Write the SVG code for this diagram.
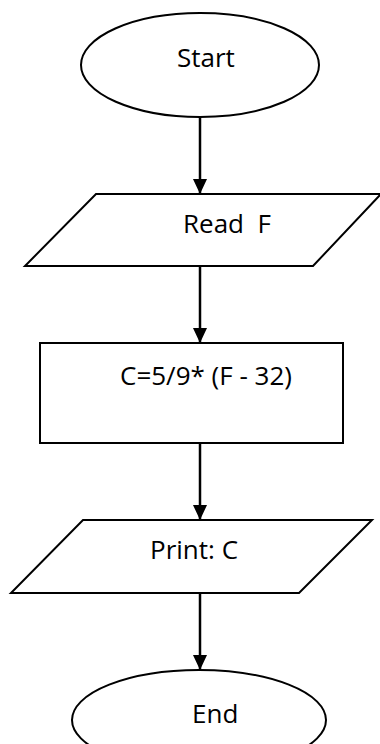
<svg xmlns="http://www.w3.org/2000/svg" width="380" height="744" viewBox="0 0 380 744">
<defs>
<marker id="ah" markerWidth="14" markerHeight="15" refX="14" refY="7" orient="auto" markerUnits="userSpaceOnUse">
<path d="M0,0 L15,7 L0,14 Z" fill="#000"/>
</marker>
</defs>
<style>
.shape{fill:#fff;stroke:#000;stroke-width:2}
.lbl{font-family:"Open Sans","Liberation Sans",sans-serif;font-size:26px;fill:#000}
.conn{stroke:#000;stroke-width:2.5;fill:none;marker-end:url(#ah)}
</style>
<rect width="380" height="744" fill="#fff"/>
<g id="start">
<ellipse class="shape" cx="200" cy="65" rx="119" ry="52"/>
<text class="lbl" x="177" y="67">Start</text>
</g>
<g id="read">
<polygon class="shape" points="96,194 381,194 313,266 25,266"/>
<text class="lbl" x="183" y="233" xml:space="preserve">Read  F</text>
</g>
<g id="calc">
<rect class="shape" x="40" y="343" width="303" height="100"/>
<text class="lbl" x="120" y="385">C=5/9* (F - 32)</text>
</g>
<g id="print">
<polygon class="shape" points="83,520 372,520 299,593 11,593"/>
<text class="lbl" x="150" y="559">Print: C</text>
</g>
<g id="end">
<ellipse class="shape" cx="199" cy="720" rx="127" ry="50"/>
<text class="lbl" x="192" y="723">End</text>
</g>
<g id="connectors">
<line class="conn" x1="200" y1="117" x2="200" y2="193"/>
<line class="conn" x1="200" y1="266" x2="200" y2="342"/>
<line class="conn" x1="200" y1="443" x2="200" y2="519"/>
<line class="conn" x1="200" y1="593" x2="200" y2="669"/>
</g>
</svg>
